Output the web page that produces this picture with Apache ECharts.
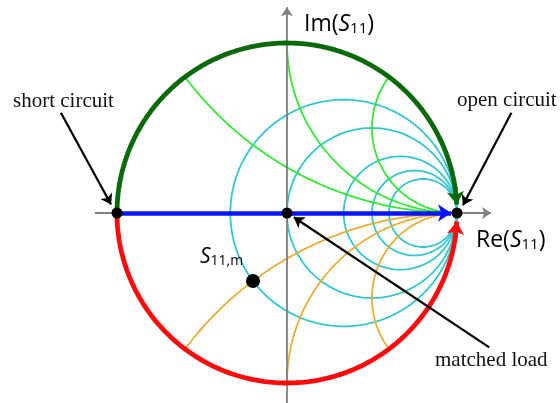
<!DOCTYPE html>
<html><head><meta charset="utf-8">
<script src="https://cdn.jsdelivr.net/npm/echarts@6/dist/echarts.min.js"></script>
<style>html,body{margin:0;padding:0;background:#fff}#c{width:560px;height:403px}</style>
</head><body><div id="c"></div><script>
// ---- chart content ----
const resistanceCircles = [0.5, 1, 2, 3, 4];        // constant-r circles (cyan)
const inductiveReactance = [0.5, 1, 2];             // constant +x arcs (green)
const capacitiveReactance = [-0.5, -1, -2];         // constant -x arcs (orange)
const keyPointNames = ['short circuit', 'matched load', 'open circuit'];
const keyPoints = [[-1, 0], [0, 0], [1, 0]];
const measuredPoint = [-0.2, -0.4];                 // S11,m  (z = 0.5 - j0.5)
const axisRangeX = [-1.13, 1.2];
const axisRangeY = [-1.12, 1.21];
const annotationStart = [[-1.33, 0.59], [1.32, 0.59], [1.19, -0.79]];
const annotationEnd = [[-1.035, 0.05], [1.035, 0.045], [0.04, -0.025]];

const C = {cyan:'#33c6cf', green:'#33e833', orange:'#e9ad38', dark:'#0a690a', red:'#ff0a0a', blue:'#0a14ff', gray:'#7f7f7f'};
const N = 180;

function resistancePts(r){
  const c = r/(1+r), R = 1/(1+r), p = [];
  for (let i=0;i<=N;i++){ const t = 2*Math.PI*i/N; p.push([c+R*Math.cos(t), R*Math.sin(t)]); }
  return p;
}
function reactancePts(x){
  const a = Math.abs(x), s = Math.sign(x), R = 1/a;
  let t0 = Math.atan2((a*a-1)/(a*a+1), -2*a/(a*a+1));
  if (t0 < 0) t0 += 2*Math.PI;
  const t1 = 1.5*Math.PI, p = [];
  for (let i=0;i<=N;i++){ const t = t0+(t1-t0)*i/N; p.push([1+R*Math.cos(t), s*(1/a+R*Math.sin(t))]); }
  return p;
}
function rimPts(t0, t1){
  const p = [];
  for (let i=0;i<=N;i++){ const t = t0+(t1-t0)*i/N; p.push([Math.cos(t), Math.sin(t)]); }
  return p;
}
const lineS = (data, color, width, z) => ({type:'line', data, showSymbol:false, symbol:'none', smooth:false,
  lineStyle:{color, width}, clip:false, silent:true, z});
const arrowS = (from, to, color, width, size, z) => ({type:'lines', coordinateSystem:'cartesian2d', clip:false, silent:true,
  data:[{coords:[from, to]}], symbol:['none','arrow'], symbolSize:size, lineStyle:{color, width, opacity:1, curveness:0}, z});

const series = [];
resistanceCircles.forEach(r => series.push(lineS(resistancePts(r), C.cyan, 1.8, 2)));
inductiveReactance.forEach(x => series.push(lineS(reactancePts(x), C.green, 1.8, 2)));
capacitiveReactance.forEach(x => series.push(lineS(reactancePts(x), C.orange, 1.8, 2)));
// axes
series.push(arrowS([axisRangeX[0],0],[axisRangeX[1],0], C.gray, 1.8, 9, 3));
series.push(arrowS([0,axisRangeY[0]],[0,axisRangeY[1]], C.gray, 1.8, 9, 3));
// real-axis sweep
series.push(arrowS(keyPoints[0], [0.965, 0], C.blue, 4.5, 13, 4));
// rim sweeps
const tipA = 0.05, baseA = 0.13;
series.push(lineS(rimPts(Math.PI, baseA), C.dark, 4.8, 4));
series.push(arrowS([Math.cos(baseA+0.02), Math.sin(baseA+0.02)], [Math.cos(tipA), Math.sin(tipA)], C.dark, 4.8, 13, 4));
series.push(lineS(rimPts(Math.PI, 2*Math.PI-baseA), C.red, 4.8, 4));
series.push(arrowS([Math.cos(baseA+0.02), -Math.sin(baseA+0.02)], [Math.cos(tipA), -Math.sin(tipA)], C.red, 4.8, 13, 4));
// dots
series.push({type:'scatter', data:keyPoints, symbolSize:11, itemStyle:{color:'#000', opacity:1}, clip:false, silent:true, z:6});
series.push({type:'scatter', data:[measuredPoint], symbolSize:14, itemStyle:{color:'#000', opacity:1}, clip:false, silent:true, z:6});
// annotation arrows
annotationStart.forEach((s,i) => series.push(arrowS(s, annotationEnd[i], '#000', 2.2, 10, 7)));

const serif = '"Liberation Serif", "Times New Roman", serif';
const sans = '"Open Sans", "Noto Sans", sans-serif';
const mathRich = {
  n:{fontSize:23, fontFamily:sans, fill:'#000'},
  i:{fontSize:23, fontFamily:sans, fontStyle:'italic', fill:'#000'},
  s:{fontSize:15, fontFamily:sans, fill:'#000', padding:[9,0,0,0]}
};
const graphic = [
  {type:'text', x:13, y:101, z:10, style:{text:keyPointNames[0], fontSize:21, fontFamily:serif, fill:'#111', align:'left', verticalAlign:'middle'}},
  {type:'text', x:457, y:100, z:10, style:{text:keyPointNames[2], fontSize:21, fontFamily:serif, fill:'#111', align:'left', verticalAlign:'middle'}},
  {type:'text', x:435, y:360, z:10, style:{text:keyPointNames[1], fontSize:21, fontFamily:serif, fill:'#111', align:'left', verticalAlign:'middle'}},
  {type:'text', x:304, y:24, z:10, style:{text:'{n|Im(}{i|S}{s|11}{n|)}', rich:mathRich, align:'left', verticalAlign:'middle'}},
  {type:'text', x:476, y:240, z:10, style:{text:'{n|Re(}{i|S}{s|11}{n|)}', rich:mathRich, align:'left', verticalAlign:'middle'}},
  {type:'text', x:200, y:257, z:10, style:{text:'{i|S}{s|11,m}', rich:{
    i:{fontSize:21, fontFamily:sans, fontStyle:'italic', fill:'#000'},
    s:{fontSize:14, fontFamily:sans, fill:'#000', padding:[9,0,0,0]}}, align:'left', verticalAlign:'middle'}}
];

const chart = echarts.init(document.getElementById('c'), null, {renderer:'canvas'});
chart.setOption({
  animation:false,
  backgroundColor:'#fff',
  grid:{left:117, top:43, width:340, height:340},
  xAxis:{type:'value', min:-1, max:1, show:false},
  yAxis:{type:'value', min:-1, max:1, show:false},
  series, graphic
});
</script></body></html>
